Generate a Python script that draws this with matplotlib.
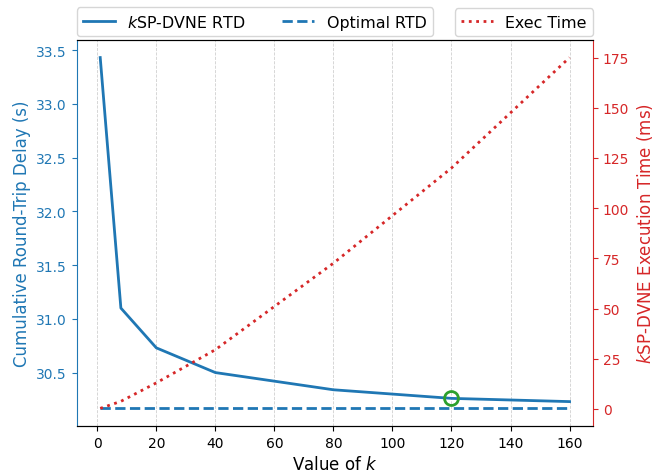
import numpy as np
import matplotlib
matplotlib.use("Agg")
import matplotlib.pyplot as plt

k_values = [1, 8, 20, 40, 80, 120, 160]
rtd_ksp = [33.43, 31.10, 30.73, 30.50, 30.34, 30.26, 30.23]
rtd_optimal = [30.167] * len(k_values)
exec_time = [0.3, 3.8, 13.0, 29.5, 72.6, 120.0, 175.0]
chosen_k = 120
chosen_rtd = 30.26

fig, ax1 = plt.subplots(figsize=(6.56, 4.77), dpi=100)
fig.subplots_adjust(left=0.117, right=0.904, top=0.914, bottom=0.105)

l1, = ax1.plot(k_values, rtd_ksp, color="tab:blue", lw=2, label=r"$k$SP-DVNE RTD")
l2, = ax1.plot(k_values, rtd_optimal, color="tab:blue", lw=2, ls="--", label="Optimal RTD")
ax1.plot([chosen_k], [chosen_rtd], "o", ms=10, mfc="none", mec="tab:green", mew=2)

ax1.set_xlabel(r"Value of $k$", fontsize=12)
ax1.set_ylabel("Cumulative Round-Trip Delay (s)", color="tab:blue", fontsize=12)
ax1.tick_params(axis="y", colors="tab:blue", labelsize=10)
ax1.tick_params(axis="x", labelsize=10)
ax1.set_xticks(np.arange(0, 161, 20))
ax1.set_yticks([30.5, 31.0, 31.5, 32.0, 32.5, 33.0, 33.5])
ax1.grid(axis="x", ls="--", color="#d0d0d0", lw=0.6)

ax2 = ax1.twinx()
l3, = ax2.plot(k_values, exec_time, color="tab:red", lw=2, ls=":", label="Exec Time")
ax2.set_ylabel(r"$k$SP-DVNE Execution Time (ms)", color="tab:red", fontsize=12)
ax2.tick_params(axis="y", colors="tab:red", labelsize=10)
ax2.set_yticks(np.arange(0, 176, 25))

ax1.spines["left"].set_color("tab:blue")
ax2.spines["left"].set_visible(False)
ax2.spines["right"].set_color("tab:red")
ax1.spines["right"].set_visible(False)

ax1.legend(handles=[l1, l2], loc="lower left", bbox_to_anchor=(0, 1.01), ncol=2,
           fontsize=11.4, columnspacing=2.3, borderaxespad=0)
ax2.legend(handles=[l3], loc="lower right", bbox_to_anchor=(1, 1.01),
           fontsize=11.4, borderaxespad=0)

fig.savefig("out.png")
